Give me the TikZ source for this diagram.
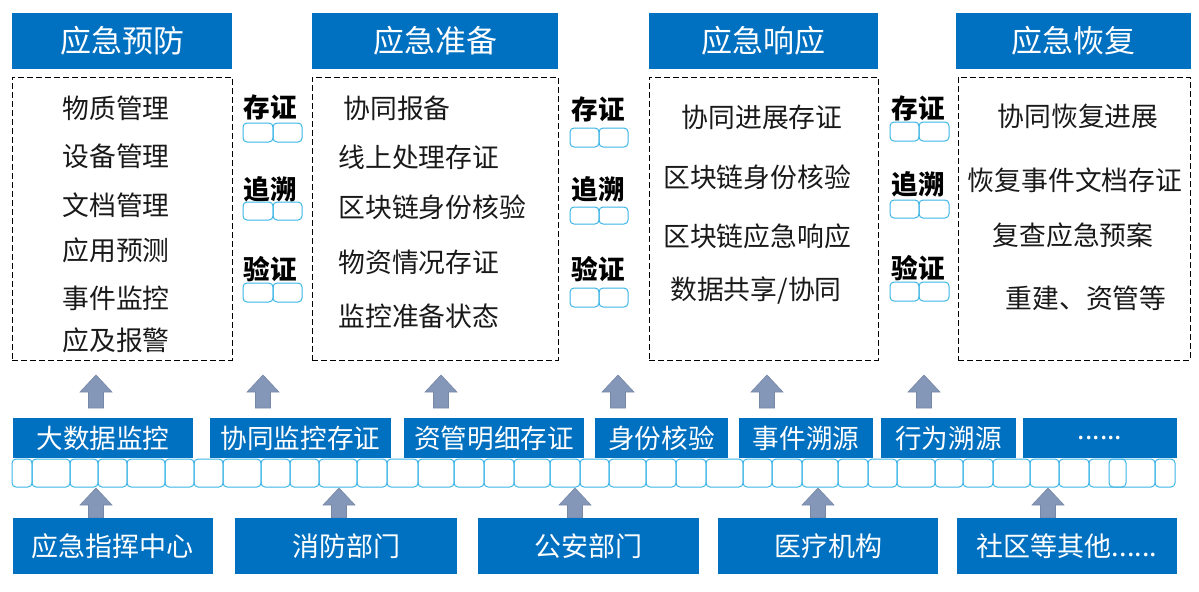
\documentclass[tikz,border=0pt]{standalone}
\usepackage{fontspec}
\setmainfont{Noto Sans CJK SC}
\definecolor{boxblue}{RGB}{0,112,192}
\definecolor{cellblue}{RGB}{60,180,230}
\definecolor{arrgray}{RGB}{132,151,184}
\tikzset{
  headbox/.style={fill=boxblue, text=white, font=\fontsize{15.5}{18}\selectfont, minimum height=28pt, inner sep=0pt},
  servbox/.style={fill=boxblue, text=white, font=\fontsize{13.3}{16}\selectfont, minimum height=20pt, inner sep=0pt},
  deptbox/.style={fill=boxblue, text=white, font=\fontsize{13.5}{16}\selectfont, minimum height=28pt, inner sep=0pt},
  dashbox/.style={draw, dash pattern=on 3pt off 1.5pt, line width=0.5pt, minimum height=141.5pt, inner sep=0pt},
  item/.style={font=\fontsize{13.4}{16}\selectfont, text=black!90, inner sep=0pt},
  tag/.style={font=\bfseries\fontsize{13.3}{16}\selectfont, inner sep=0pt},
  cell/.style={draw=cellblue, line width=0.5pt, rounded corners=2pt},
  blockarr/.style={fill=arrgray, draw=arrgray!90!black, line width=0.3pt}
}
\begin{document}
\begin{tikzpicture}[x=0.5pt,y=-0.5pt]

\useasboundingbox (0,0) rectangle (1199,591);

% phase headers
\node[headbox, minimum width=110pt] (h1) at (122,41) {应急预防};
\node[headbox, minimum width=123pt] (h2) at (435,41) {应急准备};
\node[headbox, minimum width=114.5pt] (h3) at (763.5,41) {应急响应};
\node[headbox, minimum width=117.5pt] (h4) at (1073.5,41) {应急恢复};

% dashed panels
\node[dashbox, minimum width=110pt] (p1) at (122,218.5) {};
\node[dashbox, minimum width=123pt] (p2) at (435,218.5) {};
\node[dashbox, minimum width=114.5pt] (p3) at (763.5,218.5) {};
\node[dashbox, minimum width=116pt] (p4) at (1074,218.5) {};

% panel 1
\node[item] (a1) at (116,108) {物质管理};
\node[item] (a2) at (116,156) {设备管理};
\node[item] (a3) at (116,205) {文档管理};
\node[item] (a4) at (116,250) {应用预测};
\node[item] (a5) at (116,298) {事件监控};
\node[item] (a6) at (116,340) {应及报警};

% panel 2
\node[item, anchor=west] (b1) at (343,108) {协同报备};
\node[item, anchor=west] (b2) at (338,157) {线上处理存证};
\node[item, anchor=west] (b3) at (338,207) {区块链身份核验};
\node[item, anchor=west] (b4) at (338,262) {物资情况存证};
\node[item, anchor=west] (b5) at (338,316) {监控准备状态};

% panel 3
\node[item] (c1) at (762,117) {协同进展存证};
\node[item] (c2) at (757,177) {区块链身份核验};
\node[item] (c3) at (757,236) {区块链应急响应};
\node[item] (c4) at (756,291) {数据共享/协同};

% panel 4
\node[item] (d1) at (1078,116) {协同恢复进展};
\node[item] (d2) at (1075,180) {恢复事件文档存证};
\node[item] (d3) at (1073,235) {复查应急预案};
\node[item] (d4) at (1086,298) {重建、资管等};

% tags between panels
\node[tag] (t1a) at (270,107) {存证};
\node[tag] (t1b) at (270,189) {追溯};
\node[tag] (t1c) at (270,269) {验证};
\node[tag] (t2a) at (598,109) {存证};
\node[tag] (t2b) at (598,189) {追溯};
\node[tag] (t2c) at (598,269) {验证};
\node[tag] (t3a) at (918,108) {存证};
\node[tag] (t3b) at (918,184) {追溯};
\node[tag] (t3c) at (918,268) {验证};

\foreach \xa/\xb/\xc in {243/273/302}
  \foreach \ya/\yb in {123/142, 202/220, 283/302} {
    \draw[cell] (\xa,\ya) rectangle (\xb,\yb);
    \draw[cell] (\xb,\ya) rectangle (\xc,\yb);
  }
\foreach \xa/\xb/\xc in {570/599/628}
  \foreach \ya/\yb in {128/147, 207/224, 288/307} {
    \draw[cell] (\xa,\ya) rectangle (\xb,\yb);
    \draw[cell] (\xb,\ya) rectangle (\xc,\yb);
  }
\foreach \xa/\xb/\xc in {890/919/949}
  \foreach \ya/\yb in {122/141, 200/218, 282/301} {
    \draw[cell] (\xa,\ya) rectangle (\xb,\yb);
    \draw[cell] (\xb,\ya) rectangle (\xc,\yb);
  }

% up arrows into the panels
\foreach \x in {96,263,441,618,767,924}
  \draw[blockarr] (\x-7.5,408) -- (\x-7.5,392) -- (\x-16,392) -- (\x,375)
    -- (\x+16,392) -- (\x+7.5,392) -- (\x+7.5,408) -- cycle;

% services
\node[servbox, minimum width=90pt] (s1) at (103,438) {大数据监控};
\node[servbox, minimum width=90.5pt] (s2) at (300.5,438) {协同监控存证};
\node[servbox, minimum width=90pt] (s3) at (494,438) {资管明细存证};
\node[servbox, minimum width=66.5pt] (s4) at (661.5,438) {身份核验};
\node[servbox, minimum width=67pt] (s5) at (806,438) {事件溯源};
\node[servbox, minimum width=67.5pt] (s6) at (948.5,438) {行为溯源};
\node[servbox, minimum width=77pt] (s7) at (1100,438) {......};

% chain
\foreach \a/\b in {12/32, 32/70, 70/98, 98/127, 127/165, 165/194,
    194/223, 223/261, 261/290, 290/319, 319/357, 357/387,
    387/418, 418/454, 454/484, 484/514, 514/550, 550/580,
    580/609, 609/646, 646/676, 676/706, 706/743, 743/772,
    772/802, 802/838, 838/868, 868/897, 897/935, 935/963,
    963/993, 993/1030, 1030/1059, 1059/1089, 1089/1126, 1109/1155, 1155/1175}
  \draw[cell] (\a,459) rectangle (\b,487);

% up arrows from the departments
\foreach \x in {96,339,575,818,1048}
  \draw[blockarr] (\x-7.5,518) -- (\x-7.5,505) -- (\x-16,505) -- (\x,488)
    -- (\x+16,505) -- (\x+7.5,505) -- (\x+7.5,518) -- cycle;

% departments
\node[deptbox, minimum width=100pt] (g1) at (113,546) {应急指挥中心};
\node[deptbox, minimum width=111pt] (g2) at (346,546) {消防部门};
\node[deptbox, minimum width=110.5pt] (g3) at (588.5,546) {公安部门};
\node[deptbox, minimum width=110pt] (g4) at (828,546) {医疗机构};
\node[deptbox, minimum width=110pt] (g5) at (1067,546) {社区等其他......};

\end{tikzpicture}
\end{document}
